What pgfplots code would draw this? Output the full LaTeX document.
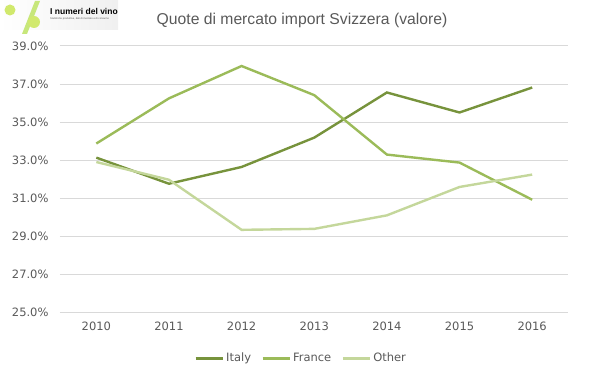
\documentclass[border=0pt]{standalone}
\usepackage{fontspec}
\setmainfont{Liberation Sans}
\newfontfamily\dvs{DejaVu Sans}
\usepackage{pgfplots}
\pgfplotsset{compat=1.18}
\definecolor{italyc}{HTML}{77933C}
\definecolor{francec}{HTML}{9BBB59}
\definecolor{otherc}{HTML}{C4D79B}
\definecolor{gridc}{HTML}{D9D9D9}
\definecolor{textc}{HTML}{595959}
\begin{document}
\begin{tikzpicture}
\useasboundingbox (0bp,0bp) rectangle (599bp,378bp);
% logo
\shade[left color=white,right color=gray!12] (0bp,348bp) rectangle (118bp,378bp);
\fill[yellow!60!green!55] (22bp,344bp) -- (27bp,344bp) -- (40bp,377bp) -- (35bp,377bp) -- cycle;
\fill[yellow!70!green!60] (10bp,368bp) circle (5.5bp);
\fill[yellow!70!green!60] (34bp,356bp) circle (6bp);
\node[anchor=west,inner sep=0pt,font=\fontsize{8.5bp}{9bp}\selectfont\bfseries] at (50bp,367bp) {I numeri del vino};
\node[anchor=west,inner sep=0pt,font=\fontsize{2.6bp}{3bp}\selectfont,text=textc] at (50bp,359bp) {Statistiche produttive, dati di mercato e di consumo};
% title
\node[font=\fontsize{15.7bp}{18bp}\selectfont,text=textc] at (302bp,358bp) {Quote di mercato import Svizzera (valore)};
\begin{axis}[
  at={(60bp,65.3bp)}, anchor=south west,
  scale only axis, width=508.5bp, height=266.7bp,
  xmin=-0.5, xmax=6.5, ymin=25, ymax=39,
  xtick={0,...,6},
  xticklabels={2010,2011,2012,2013,2014,2015,2016},
  ytick={25,27,...,39},
  axis line style={draw=none},
  major tick length=0pt,
  ymajorgrids, grid style={gridc, line width=1bp},
  /pgf/number format/assume math mode=true,
  yticklabel={\pgfmathprintnumber[fixed,fixed zerofill,precision=1]{\tick}\%},
  tick label style={font=\dvs\fontsize{11.5bp}{13bp}\selectfont, text=textc},
  yticklabel style={xshift=-8bp},
  xticklabel style={yshift=-6bp},
  legend columns=3,
  legend style={at={(0.474,-0.17)}, anchor=center, draw=none, fill=none,
    font=\dvs\fontsize{11.5bp}{13bp}\selectfont, text=textc,
    cells={text depth=0.25ex, text height=1.6ex},
    /tikz/every even column/.append style={column sep=8bp}},
  legend image code/.code={\draw[#1, line width=3bp] (0bp,0bp) -- (27bp,0bp);},
]
\addplot[italyc, line width=2.4bp] coordinates {(0,33.14) (1,31.77) (2,32.65) (3,34.19) (4,36.56) (5,35.51) (6,36.82)};
\addlegendentry{Italy}
\addplot[francec, line width=2.4bp] coordinates {(0,33.88) (1,36.25) (2,37.95) (3,36.42) (4,33.30) (5,32.88) (6,30.93)};
\addlegendentry{France}
\addplot[otherc, line width=2.4bp] coordinates {(0,32.91) (1,31.98) (2,29.35) (3,29.40) (4,30.11) (5,31.60) (6,32.25)};
\addlegendentry{Other}
\end{axis}
\end{tikzpicture}
\end{document}
